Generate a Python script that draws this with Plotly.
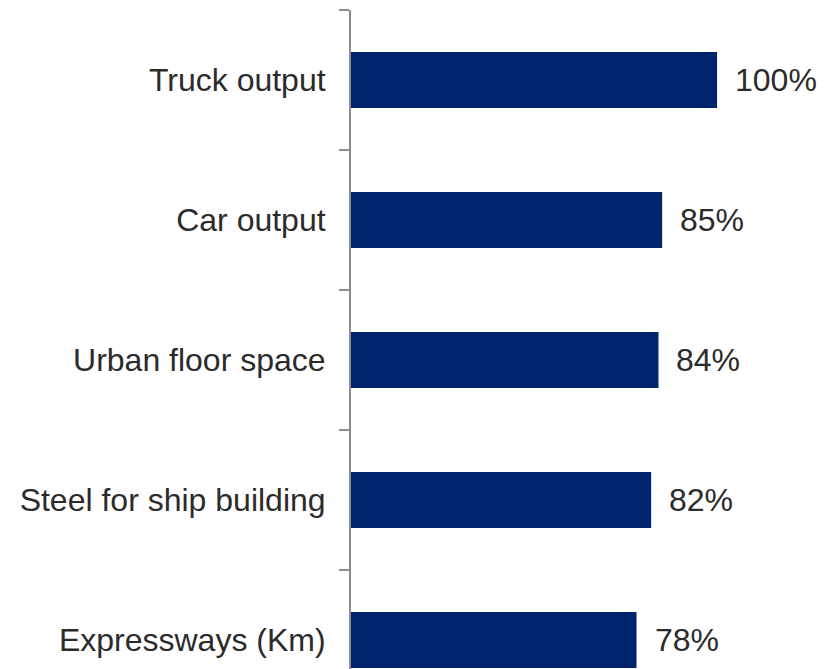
import plotly.graph_objects as go

# Categories listed bottom-to-top, with their values (%)
categories = ["Expressways (Km)", "Steel for ship building", "Urban floor space",
              "Car output", "Truck output"]
values = [78, 82, 84, 85, 100]
value_labels = ["78%", "82%", "84%", "85%", "100%"]

BAR_COLOR = "#00246E"
TEXT_COLOR = "#2B2B2B"
AXIS_COLOR = "#8C8C8C"
FONT = "Liberation Sans, Arial, sans-serif"
FONT_SIZE = 32

fig = go.Figure()
fig.add_trace(go.Bar(
    y=categories,
    x=values,
    orientation="h",
    marker=dict(color=BAR_COLOR, line=dict(width=0)),
    hoverinfo="skip",
))

# Value labels to the right of each bar
for cat, val, lab in zip(categories, values, value_labels):
    fig.add_annotation(
        x=val, y=cat, text=lab, showarrow=False,
        xanchor="left", yanchor="middle", xshift=16,
        font=dict(family=FONT, size=FONT_SIZE, color=TEXT_COLOR),
    )

fig.update_layout(
    width=832, height=669,
    margin=dict(l=351, r=0, t=10, b=0),
    paper_bgcolor="white", plot_bgcolor="white",
    bargap=0.6,
    showlegend=False,
    font=dict(family=FONT, size=FONT_SIZE, color=TEXT_COLOR),
)
fig.update_xaxes(
    range=[0, 131.4], visible=False, showgrid=False, zeroline=False,
)
fig.update_yaxes(
    type="category",
    categoryorder="array", categoryarray=categories,
    range=[-0.207, 4.5],
    showline=True, linecolor=AXIS_COLOR, linewidth=2,
    ticks="outside", tickson="boundaries", ticklen=10, tickwidth=2,
    tickcolor=AXIS_COLOR,
    ticklabelstandoff=17,
    showgrid=False, zeroline=False,
    tickfont=dict(family=FONT, size=FONT_SIZE, color=TEXT_COLOR),
)

fig.write_html("out.html")
